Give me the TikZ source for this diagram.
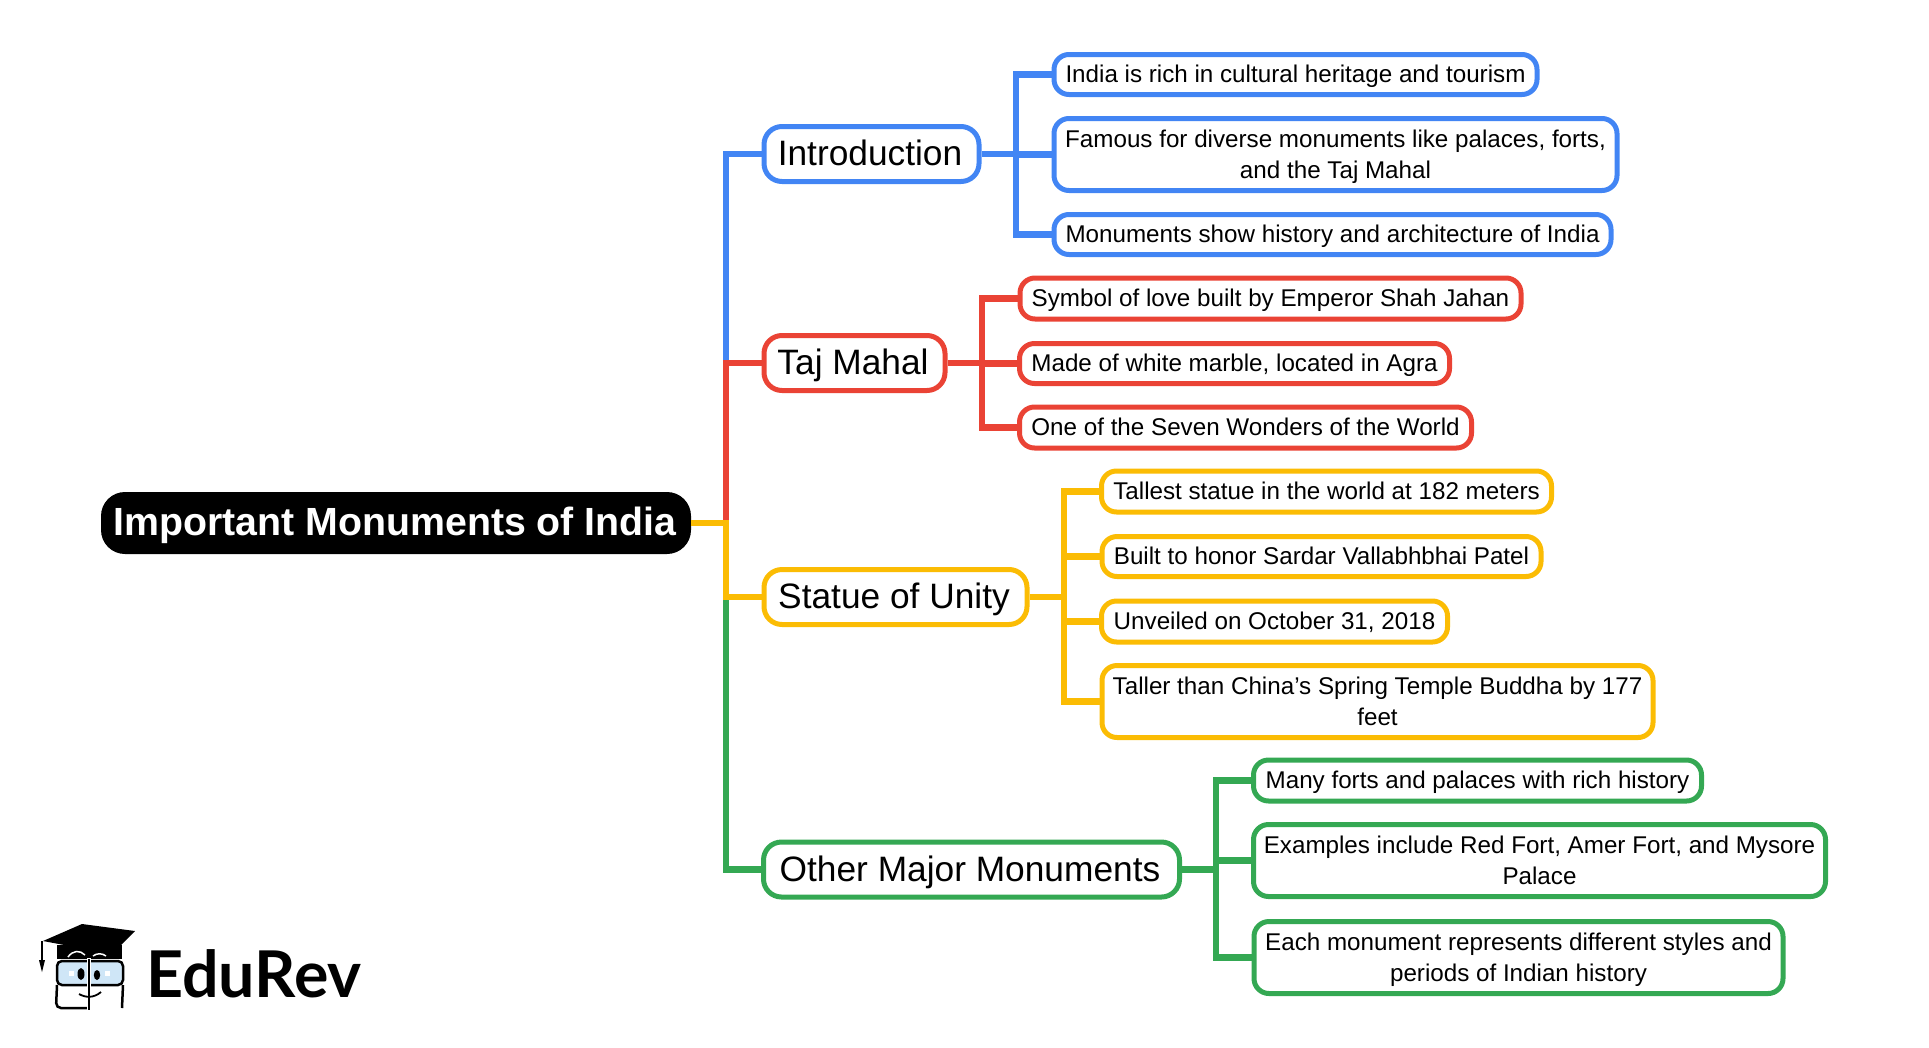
\documentclass[tikz,border=0pt]{standalone}
\usepackage{fontspec}
\setmainfont{Liberation Sans}
\newfontfamily\logofont{Lato}
\usetikzlibrary{calc}
\definecolor{gblue}{HTML}{4285F4}
\definecolor{gred}{HTML}{EA4335}
\definecolor{gyellow}{HTML}{FBBC04}
\definecolor{ggreen}{HTML}{34A853}
\definecolor{lens}{HTML}{CFE6F7}

\begin{document}
\begin{tikzpicture}[
    x=1pt, y=-1pt,
    root/.style={rectangle, rounded corners=24pt, fill=black, text=white, inner sep=0pt, minimum height=62pt, text height=28pt, text depth=3pt, font=\fontsize{39.3}{45}\selectfont\bfseries, execute at end node=\hspace{2pt}},
    branch/.style={rectangle, rounded corners=18pt, draw=#1, line width=5pt, fill=white, inner sep=0pt, minimum height=55pt, text height=23.5pt, text depth=0pt, font=\fontsize{35.3}{40}\selectfont, execute at end node=\hspace{3pt}},
    leaf/.style={rectangle, rounded corners=15pt, draw=#1, line width=5pt, fill=white, inner sep=0pt, align=center, font=\fontsize{24.2}{31}\selectfont, execute at begin node=\rule{0pt}{24pt}, execute at end node=\rule[-8.7pt]{0pt}{0pt}},
    tall/.style={execute at begin node=\rule{0pt}{56pt}},
    link/.style={draw=#1, line width=6.5pt}
]
\useasboundingbox (0,0) rectangle (1929,1047);

% Central topic
\node[root, minimum width=590pt] (main) at (396,523) {Important Monuments of India};

% Branches
\node[branch=gblue, minimum width=215pt] (intro) at (871.5,154) {Introduction};
\node[branch=gred, minimum width=181pt] (taj) at (854.5,363) {Taj Mahal};
\node[branch=gyellow, minimum width=263pt] (statue) at (895.5,597) {Statue of Unity};
\node[branch=ggreen, minimum width=416pt] (other) at (971.5,869.5) {Other Major Monuments};

% Introduction leaves
\node[leaf=gblue, minimum width=483pt, minimum height=40pt] (intro1) at (1295.5,74.5) {India is rich in cultural heritage and tourism};
\node[leaf=gblue, tall, minimum width=563pt, minimum height=72pt] (intro2) at (1335.5,154.5) {Famous for diverse monuments like palaces, forts,\\and the Taj Mahal};
\node[leaf=gblue, minimum width=557pt, minimum height=40pt] (intro3) at (1332.5,234.5) {Monuments show history and architecture of India};

% Taj Mahal leaves
\node[leaf=gred, minimum width=501pt, minimum height=41pt] (taj1) at (1270.5,298.5) {Symbol of love built by Emperor Shah Jahan};
\node[leaf=gred, minimum width=430pt, minimum height=40pt] (taj2) at (1234.5,363.5) {Made of white marble, located in Agra};
\node[leaf=gred, minimum width=452pt, minimum height=41pt] (taj3) at (1245.5,427.5) {One of the Seven Wonders of the World};

% Statue of Unity leaves
\node[leaf=gyellow, minimum width=450pt, minimum height=41pt] (statue1) at (1326.5,491.5) {Tallest statue in the world at 182 meters};
\node[leaf=gyellow, minimum width=439pt, minimum height=40pt] (statue2) at (1321.5,556.5) {Built to honor Sardar Vallabhbhai Patel};
\node[leaf=gyellow, minimum width=346pt, minimum height=41pt] (statue3) at (1274.5,621.5) {Unveiled on October 31, 2018};
\node[leaf=gyellow, tall, minimum width=551pt, minimum height=72pt] (statue4) at (1377.5,701.5) {Taller than China's Spring Temple Buddha by 177\\feet};

% Other Major Monuments leaves
\node[leaf=ggreen, minimum width=448pt, minimum height=41pt] (other1) at (1477.5,780.5) {Many forts and palaces with rich history};
\node[leaf=ggreen, tall, minimum width=572pt, minimum height=72pt] (other2) at (1539.5,860.5) {Examples include Red Fort, Amer Fort, and Mysore\\Palace};
\node[leaf=ggreen, tall, minimum width=529pt, minimum height=72pt] (other3) at (1518.5,957.5) {Each monument represents different styles and\\periods of Indian history};

% Forks
\coordinate (mainfork) at (726,523);
\coordinate (introfork) at (1016,154);
\coordinate (tajfork) at (982,363);
\coordinate (statuefork) at (1064,597);
\coordinate (otherfork) at (1216,869.5);

% Main to branches
\draw[link=gblue] (mainfork) |- (intro.west);
\draw[link=gred] (mainfork) |- (taj.west);
\draw[link=ggreen] (mainfork) |- (other.west);
\draw[link=gyellow] (main.east) -- (mainfork) |- (statue.west);

% Branches to leaves
\draw[link=gblue] (intro.east) -- (introfork);
\draw[link=gblue] (introfork) |- (intro1.west);
\draw[link=gblue] (introfork) |- (intro2.west);
\draw[link=gblue] (introfork) |- (intro3.west);

\draw[link=gred] (taj.east) -- (tajfork);
\draw[link=gred] (tajfork) |- (taj1.west);
\draw[link=gred] (tajfork) |- (taj2.west);
\draw[link=gred] (tajfork) |- (taj3.west);

\draw[link=gyellow] (statue.east) -- (statuefork);
\draw[link=gyellow] (statuefork) |- (statue1.west);
\draw[link=gyellow] (statuefork) |- (statue2.west);
\draw[link=gyellow] (statuefork) |- (statue3.west);
\draw[link=gyellow] (statuefork) |- (statue4.west);

\draw[link=ggreen] (other.east) -- (otherfork);
\draw[link=ggreen] (otherfork) |- (other1.west);
\draw[link=ggreen] (otherfork) |- (other2.west);
\draw[link=ggreen] (otherfork) |- (other3.west);

% Logo
\fill (57,945) rectangle (122,959);
\draw[white, line width=1.5pt] (68,957) .. controls (73,950) and (80,950) .. (85,955);
\draw[white, line width=1.5pt] (93,956) .. controls (97,953) and (102,953) .. (106,956);
\fill (82,924) -- (135,931) -- (112,954) -- (43,941) -- cycle;
\draw[line width=1.8pt] (42,941) -- (42,960);
\fill (39,960) -- (45,960) -- (42,972) -- cycle;
\draw[fill=lens, line width=2.5pt, rounded corners=5pt] (57,961) rectangle (123,985);
\draw[line width=2.5pt, rounded corners=5pt] (57,985) -- (56,1008) -- (88,1008);
\draw[line width=2.5pt, rounded corners=5pt] (123,985) -- (122,1008);
\draw[white, line width=3.5pt] (89,958) -- (89,1010);
\draw[line width=2pt] (89,959) -- (89,1010);
\fill (81,974) ellipse (3.5pt and 6pt);
\fill (97,975) ellipse (3.2pt and 5pt);
\fill[white] (69,971) rectangle (74,976);
\fill[white] (105,971) rectangle (110,976);
\draw[line width=1.8pt] (79,994) .. controls (86,998) and (94,998) .. (101,992);
\node[inner sep=0pt, anchor=base west, font=\logofont\fontsize{64.5}{64}\selectfont\bfseries] (logotext) at (146,997) {EduRev};

\end{tikzpicture}
\end{document}
